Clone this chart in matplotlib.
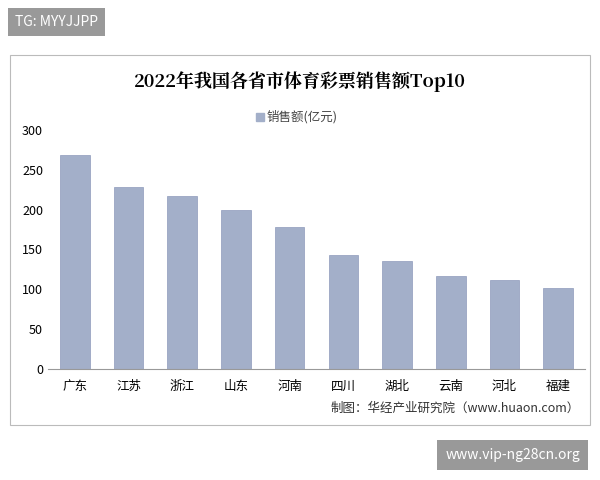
import matplotlib
matplotlib.use("Agg")
import matplotlib.pyplot as plt
from matplotlib.patches import Rectangle

plt.rcParams['font.family'] = ['Noto Sans CJK SC', 'DejaVu Sans']

provinces = ["广东", "江苏", "浙江", "山东", "河南", "四川", "湖北", "云南", "河北", "福建"]
sales = [269, 228, 217, 199, 178, 143, 135, 117, 112, 102]
yticks = [0, 50, 100, 150, 200, 250, 300]

fig = plt.figure(figsize=(6, 4.8), dpi=100)
fig.patches.append(Rectangle((10/600, 1-425/480), 580/600, 370/480, transform=fig.transFigure,
                             fill=False, edgecolor='#bbbbbb', lw=0.8))
ax = fig.add_axes([48/600, 1-369/480, 537/600, 239/480])
ax.bar(range(len(provinces)), sales, width=0.55, color='#a3afc9', edgecolor='#8e9bbb', lw=0.5)
ax.set_xlim(-0.5, len(provinces)-0.5)
ax.set_ylim(0, 300)
ax.set_yticks(yticks)
ax.set_xticks(range(len(provinces)))
ax.set_xticklabels(provinces, fontsize=9)
ax.tick_params(axis='y', labelsize=9, length=0)
ax.tick_params(axis='x', length=0, pad=8)
for s in ['top', 'right', 'left']:
    ax.spines[s].set_visible(False)
ax.spines['bottom'].set_color('#999999')

fig.text(0.5, 1-82/480, "2022年我国各省市体育彩票销售额Top10", ha='center', va='center',
         fontsize=13, fontweight='bold', family=['Noto Serif CJK SC', 'Noto Sans CJK SC', 'DejaVu Serif'])
fig.patches.append(Rectangle((256/600, 1-121/480), 8/600, 8/480, transform=fig.transFigure,
                             color='#a3afc9'))
fig.text(267/600, 1-117/480, "销售额(亿元)", va='center', fontsize=9, color='#444444')
fig.text(580/600, 1-408/480, "制图：华经产业研究院（www.huaon.com）", ha='right', va='center',
         fontsize=9, color='#333333')

fig.text(15/600, 1-22/480, "TG: MYYJJPP", va='center', fontsize=10, color='white',
         bbox=dict(boxstyle='square,pad=0.5', fc='#999999', ec='none'))
fig.text(580/600, 1-455/480, "www.vip-ng28cn.org", ha='right', va='center', fontsize=10, color='white',
         bbox=dict(boxstyle='square,pad=0.6', fc='#999999', ec='none'))

fig.savefig("out.png", dpi=100)
